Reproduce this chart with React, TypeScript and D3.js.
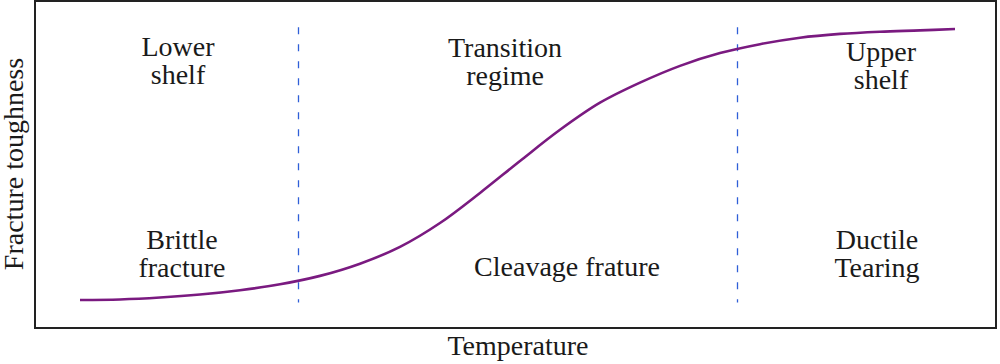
import React, { useEffect } from 'react';
import * as d3 from 'd3';

// Temperature (arbitrary units) vs fracture toughness (arbitrary units, 0-100)
const temperature = [
  0, 8, 16, 24, 32, 40, 48, 56, 64, 72, 80, 88, 96, 104, 112, 120, 128, 136,
  144, 152, 160, 168, 175,
];
const toughness = [
  0, 0.2, 0.9, 2.0, 3.6, 5.8, 8.9, 13.4, 19.6, 28.4, 39.5, 51.3, 62.8, 72.8,
  80.2, 86.4, 91.1, 94.4, 96.8, 98.2, 99.0, 99.5, 100,
];

// region boundaries (temperature)
const boundaries = [43.7, 131.5];

const regionLabels = [
  ['Lower', 'shelf'],
  ['Transition', 'regime'],
  ['Upper', 'shelf'],
  ['Brittle', 'fracture'],
  ['Cleavage frature'],
  ['Ductile', 'Tearing'],
];
const xTitle = 'Temperature';
const yTitle = 'Fracture toughness';

// label layout: [center x, first baseline] in px
const labelPos: [number, number][] = [
  [178, 56],
  [505, 57],
  [881, 61],
  [182, 249],
  [567, 276],
  [877, 249],
];

const W = 1000;
const H = 364;
const frame = { left: 35, top: 1, right: 996, bottom: 328 };
const font = "'Liberation Serif', 'Times New Roman', Times, serif";

export default function App() {
  useEffect(() => {
    document.body.style.margin = '0';
  }, []);

  const x = d3.scaleLinear().domain([0, 175]).range([80, 955]);
  const y = d3.scaleLinear().domain([0, 100]).range([300, 29]);

  const pts = temperature.map((t, i) => [t, toughness[i]] as [number, number]);
  const line = d3
    .line<[number, number]>()
    .x(d => x(d[0]))
    .y(d => y(d[1]))
    .curve(d3.curveCatmullRom.alpha(0.5));

  const textStyle = { fontFamily: font, fontSize: '28px', fill: '#1a1a1a' };

  return (
    <svg width={W} height={H} style={{ display: 'block', background: '#fff' }}>
      <rect
        x={frame.left}
        y={frame.top}
        width={frame.right - frame.left}
        height={frame.bottom - frame.top}
        fill="none"
        stroke="#222"
        strokeWidth={2}
      />
      {boundaries.map(b => (
        <line
          key={b}
          x1={x(b)}
          x2={x(b)}
          y1={y(100.6)}
          y2={y(-0.9)}
          stroke="#2f5fd8"
          strokeWidth={1.3}
          strokeDasharray="7,10"
        />
      ))}
      <path d={line(pts) || ''} fill="none" stroke="#7a1a80" strokeWidth={2.6} />
      {regionLabels.map((lines, i) => (
        <text key={i} x={labelPos[i][0]} y={labelPos[i][1]} textAnchor="middle" style={textStyle}>
          {lines.map((l, j) => (
            <tspan key={j} x={labelPos[i][0]} dy={j === 0 ? 0 : 28}>
              {l}
            </tspan>
          ))}
        </text>
      ))}
      <text x={518} y={355} textAnchor="middle" style={textStyle}>
        {xTitle}
      </text>
      <text transform={`translate(23,164) rotate(-90)`} textAnchor="middle" style={textStyle}>
        {yTitle}
      </text>
    </svg>
  );
}
